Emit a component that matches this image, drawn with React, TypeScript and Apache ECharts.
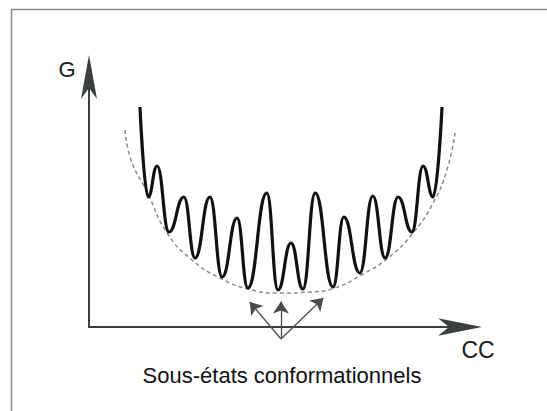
import React, { useEffect, useRef } from "react";
import * as echarts from "echarts";

// Free-energy landscape (CC: 0..100, G: 0..100)
const waveCC = [13.7, 15.9, 18.3, 21.5, 25.5, 28.5, 32.5, 35.8, 39.8, 42.7, 47.8, 50.8, 54.3, 57.5, 60.8, 65.6, 68.5, 72.8, 76.3, 79.6, 83.1, 86.8, 89.8, 92.5, 94.9];
const waveG = [88, 52, 64.4, 38, 52, 27.6, 52, 20, 43.6, 15.6, 53.6, 14.8, 33.6, 15.2, 53.6, 16, 44, 21.6, 52.4, 27.6, 52, 38, 64.4, 52, 88];

// Dashed envelope
const envCC = [9.7, 11.3, 15.6, 21, 27.7, 35.2, 42.7, 51.3, 59.4, 66.1, 73.7, 80.4, 87.1, 92.5, 96.2, 98.4];
const envG = [78.8, 66.8, 54, 37.6, 26.8, 19.6, 15.2, 13.6, 14, 15.6, 21.2, 27.6, 37.6, 49.6, 62.8, 77.6];

// Arrows pointing to the sub-states
const arrowFromCC = 51.6;
const arrowFromG = -4.8;
const arrowTipCC = [43.2, 51.6, 63.0];
const arrowTipG = [10.0, 10.2, 11.6];

const yAxisTitle = "G";
const xAxisTitle = "CC";
const caption = "Sous-états conformationnels";

const FONT = "'Liberation Sans', Arial, Helvetica, sans-serif";

export default function App() {
  const ref = useRef<HTMLDivElement>(null);
  useEffect(() => {
    document.body.style.margin = "0";
    const chart = echarts.init(ref.current!, undefined, { renderer: "svg" });
    const axisCommon = {
      type: "value" as const,
      min: 0,
      max: 100,
      axisTick: { show: false },
      axisLabel: { show: false },
      splitLine: { show: false },
    };
    chart.setOption({
      animation: false,
      backgroundColor: "#ffffff",
      grid: { left: 89, right: 86, top: 77, bottom: 84 },
      xAxis: {
        ...axisCommon,
        axisLine: {
          show: true,
          symbol: ["none", "arrow"],
          symbolSize: [13, 44],
          symbolOffset: [0, 21],
          lineStyle: { color: "#3a4040", width: 2 },
        },
      },
      yAxis: {
        ...axisCommon,
        axisLine: {
          show: true,
          symbol: ["none", "arrow"],
          symbolSize: [12, 44],
          symbolOffset: [0, 22],
          lineStyle: { color: "#3a4040", width: 2 },
        },
      },
      graphic: [
        {
          type: "rect",
          shape: { x: 11.5, y: 9.5, width: 700, height: 600 },
          style: { fill: "none", stroke: "#8a8a8a", lineWidth: 1.5 },
          silent: true,
        },
        {
          type: "text",
          x: 67,
          y: 69,
          style: { text: yAxisTitle, font: `22px ${FONT}`, fill: "#1a1a1a", textAlign: "center", textVerticalAlign: "middle" },
        },
        {
          type: "text",
          x: 478,
          y: 350,
          style: { text: xAxisTitle, font: `23px ${FONT}`, fill: "#1a1a1a", textAlign: "center", textVerticalAlign: "middle" },
        },
        {
          type: "text",
          x: 282,
          y: 375.5,
          style: { text: caption, font: `22px ${FONT}`, fill: "#111111", textAlign: "center", textVerticalAlign: "middle" },
        },
      ],
      series: [
        {
          type: "line",
          data: envCC.map((c, i) => [c, envG[i]]),
          showSymbol: false,
          smooth: 0.5,
          clip: false,
          lineStyle: { color: "#8a8a8a", width: 1.5, type: [4, 3] },
          z: 2,
        },
        {
          type: "line",
          data: waveCC.map((c, i) => [c, waveG[i]]),
          showSymbol: false,
          smooth: 0.48,
          smoothMonotone: "x",
          clip: false,
          lineStyle: { color: "#111111", width: 3.2 },
          z: 3,
        },
        {
          type: "lines",
          coordinateSystem: "cartesian2d",
          clip: false,
          symbol: ["none", "arrow"],
          symbolSize: [9, 12],
          lineStyle: { color: "#4a4a4a", width: 1.3, opacity: 1 },
          data: arrowTipCC.map((c, i) => ({
            coords: [
              [arrowFromCC, arrowFromG],
              [c, arrowTipG[i]],
            ],
          })),
          z: 4,
        },
      ],
    });
    return () => chart.dispose();
  }, []);
  return <div ref={ref} style={{ position: "absolute", left: 0, top: 0, width: 547, height: 411 }} />;
}
